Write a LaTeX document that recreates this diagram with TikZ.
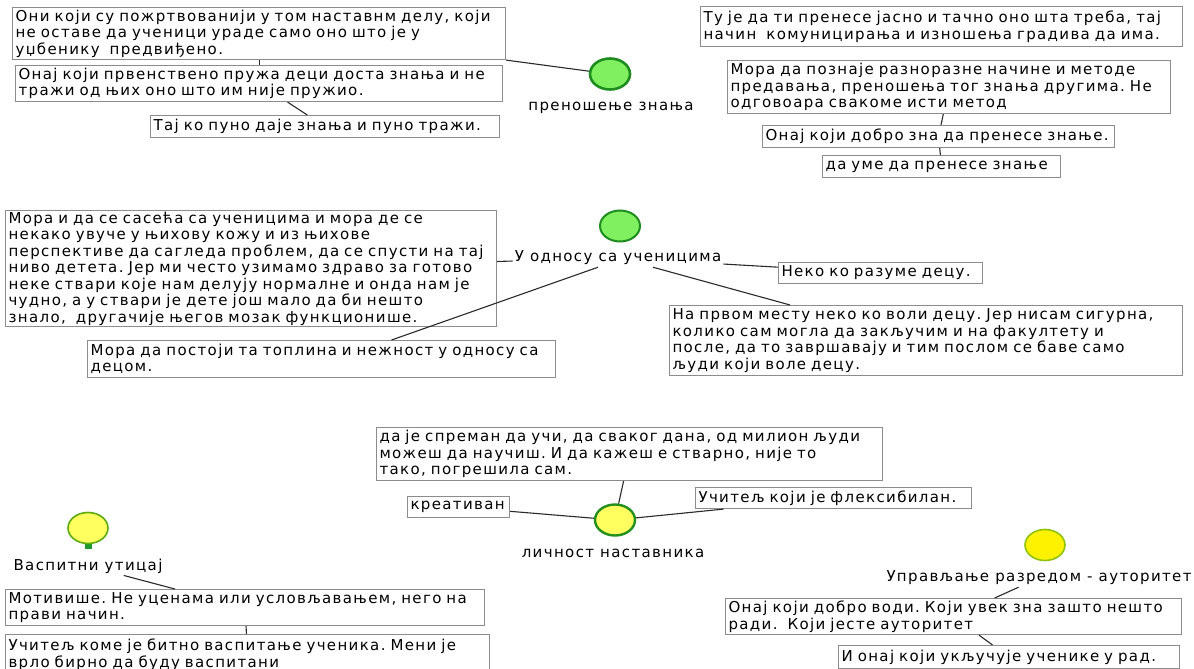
\documentclass[tikz,border=0pt]{standalone}
\usepackage{fontspec}
\newfontfamily\mapfont[LetterSpace=9]{DejaVu Sans}
\usetikzlibrary{shapes.geometric}
\frenchspacing

\definecolor{framegray}{HTML}{8C8C8C}
\definecolor{linegray}{HTML}{2A2A2A}
\definecolor{knotgreen}{HTML}{80F060}
\definecolor{knotdark}{HTML}{1E8C1E}
\definecolor{knotyellow}{HTML}{FFFF60}
\definecolor{knotlime}{HTML}{5FAA10}
\definecolor{stubgreen}{HTML}{1F9A2A}

\tikzset{%
            base/.style = {rectangle, draw=framegray, line width=1.1pt,
                           anchor=north west, align=left, fill=white,
                           inner xsep=3pt, inner ysep=1pt,
                           font=\mapfont\fontsize{15}{16.5}\selectfont},
  box0/.style = {base},
  lbl/.style  = {font=\mapfont\fontsize{15}{16.5}\selectfont, inner sep=2pt},
  knot/.style = {ellipse, minimum width=40pt, minimum height=31pt, inner sep=0pt},
  knotG/.style = {knot, fill=knotgreen, draw=knotdark, line width=2.6pt},
  knotY/.style = {knot, fill=knotyellow, draw=knotlime, line width=2pt},
  link/.style = {draw=linegray, line width=1.1pt},
}

\begin{document}
\begin{tikzpicture}[x=1pt, y=-1pt]

  \path[use as bounding box, fill=white] (0,0) rectangle (1194,669);

  % knowledge transfer
  \node (onPrenos)  [knotG]                  at (610,74)  {};
  \node (onPrenosL) [lbl]                    at (611,108) {преношење знања};
  \node (onPr1) [box0, text width=487pt, minimum height=52pt] at (12,7)
        {Они који су пожртвованији у том наставнм делу, који\\ не оставе да ученици ураде само оно што је у\\ уџбенику\ \ предвиђено.};
  \node (onPr2) [box0, text width=481pt, minimum height=36pt] at (15,65)
        {Онај који првенствено пружа деци доста знања и не\\ тражи од њих оно што им није пружио.};
  \node (onPr3) [box0, text width=343pt, minimum height=22pt] at (150,115)
        {Тај ко пуно даје знања и пуно тражи.};
  \node (onPr4) [box0, text width=476pt, minimum height=40pt] at (700,6)
        {Ту је да ти пренесе јасно и тачно оно шта треба, тај\\ начин\ \ комуницирања и изношења градива да има.};
  \node (onPr5) [box0, text width=437pt, minimum height=53pt] at (727,60)
        {Мора да познаје разноразне начине и методе\\ предавања, преношења тог знања другима. Не\\ одговоара свакоме исти метод};
  \node (onPr6) [box0, text width=346pt, minimum height=22pt] at (762,125)
        {Онај који добро зна да пренесе знање.};
  \node (onPr7) [box0, text width=232pt, minimum height=22pt] at (822,155)
        {да уме да пренесе знање};

  \draw[link] (onPr1.south east) -- (onPrenos);
  \draw[link] (onPr1) -- (onPr2);
  \draw[link] (onPr2) -- (onPr3);
  \draw[link] (onPr5) -- (onPr6);
  \draw[link] (onPr6) -- (onPr7);

  % relation to pupils
  \node (onOdnos)  [knotG, line width=2pt]   at (620,226) {};
  \node (onOdnosL) [lbl]                     at (618,258) {У односу са ученицима};
  \node (onOd1) [box0, text width=485pt, minimum height=116pt] at (5,210)
        {Мора и да се сасећа са ученицима и мора де се\\ некако увуче у њихову кожу и из њихове\\ перспективе да сагледа проблем, да се спусти на тај\\ ниво детета. Јер ми често узимамо здраво за готово\\ неке ствари које нам делују нормалне и онда нам је\\ чудно, а у ствари је дете још мало да би нешто\\ знало,\ \ другачије његов мозак функционише.};
  \node (onOd2) [box0, text width=462pt, minimum height=37pt] at (87,340)
        {Мора да постоји та топлина и нежност у односу са\\ децом.};
  \node (onOd3) [box0, text width=198pt, minimum height=21pt] at (778,262)
        {Неко ко разуме децу.};
  \node (onOd4) [box0, text width=507pt, minimum height=70pt] at (669,305)
        {На првом месту неко ко воли децу. Јер нисам сигурна,\\ колико сам могла да закључим и на факултету и\\ после, да то завршавају и тим послом се баве само\\ људи који воле децу.};

  \draw[link] (onOd1) -- (onOdnosL);
  \draw[link] ([xshift=-20pt]onOdnosL.south) -- ([xshift=70pt]onOd2.north);
  \draw[link] (onOdnosL) -- (onOd3);
  \draw[link] ([xshift=35pt]onOdnosL.south) -- ([xshift=-136pt]onOd4.north);

  % teacher personality
  \node (onLicnost)  [knotY, draw=knotdark!90!knotlime, line width=2.4pt] at (615,520) {};
  \node (onLicnostL) [lbl]                   at (613,553) {личност наставника};
  \node (onLi1) [box0, text width=500pt, minimum height=53pt] at (376,427)
        {да је спреман да учи, да сваког дана, од милион људи\\ можеш да научиш. И да кажеш е стварно, није то\\ тако, погрешила сам.};
  \node (onLi2) [box0, text width=96pt, minimum height=21pt] at (407,496)
        {креативан};
  \node (onLi3) [box0, text width=270pt, minimum height=21pt] at (695,487)
        {Учитељ који је флексибилан.};

  \draw[link] (onLi1) -- (onLicnost);
  \draw[link] (onLi2) -- (onLicnost);
  \draw[link] (onLicnost) -- (onLi3);

  % educational influence
  \fill[stubgreen] (85,541) rectangle (92,549);
  \node (onVaspit)  [knotY, line width=1.6pt] at (88,528) {};
  \node (onVaspitL) [lbl]                     at (88,566) {Васпитни утицај};
  \node (onVa1) [box0, text width=473pt, minimum height=36pt] at (5,589)
        {Мотивише. Не уценама или условљавањем, него на\\ прави начин.};
  \node (onVa2) [box0, text width=478pt, minimum height=40pt] at (5,634)
        {Учитељ коме је битно васпитање ученика. Мени је\\ врло бирно да буду васпитани};

  \draw[link] (onVaspitL) -- (onVa1);
  \draw[link] (onVa1) -- (onVa2);

  % class management
  \node (onRazred)  [knotY, fill=yellow, draw=knotlime!70!yellow, line width=1.6pt] at (1045,545) {};
  \node (onRazredL) [lbl]                     at (1039,578) {Управљање разредом - ауторитет};
  \node (onRa1) [box0, text width=450pt, minimum height=36pt] at (725,598)
        {Онај који добро води. Који увек зна зашто нешто\\ ради.\ \ Који јесте ауторитет};
  \node (onRa2) [box0, text width=335pt, minimum height=23pt] at (838,645)
        {И онај који укључује ученике у рад.};

  \draw[link] (onRazredL) -- (onRa1);
  \draw[link] (onRa1) -- (onRa2);

\end{tikzpicture}
\end{document}
